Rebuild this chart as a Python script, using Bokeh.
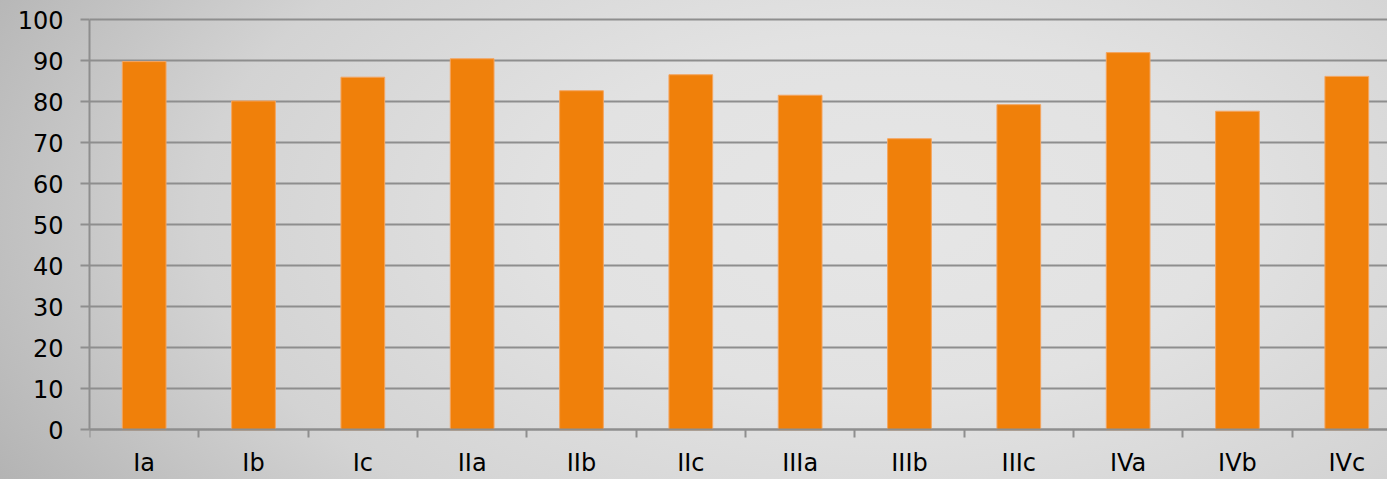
from bokeh.plotting import figure
from bokeh.models import Range1d, FixedTicker, ColumnDataSource, LinearAxis, Grid
from bokeh.embed import file_html
from bokeh.resources import INLINE

categories = ["Ia", "Ib", "Ic", "IIa", "IIb", "IIc", "IIIa", "IIIb", "IIIc", "IVa", "IVb", "IVc"]
values = [89.8, 80.2, 86.0, 90.5, 82.7, 86.6, 81.6, 71.0, 79.3, 92.0, 77.7, 86.2]
y_ticks = [0, 10, 20, 30, 40, 50, 60, 70, 80, 90, 100]

n = len(categories)
centers = [i + 0.5 for i in range(n)]
src = ColumnDataSource(dict(x=centers, top=values, cat=categories))

W, H = 1387, 479
left = 89
frame_w = W - left
cat_px = 109.33
px_per_unit = 4.1
zero_y = 429.3  # within figure

p = figure(width=W, height=H, output_backend="svg", toolbar_location=None,
           x_range=Range1d(0, frame_w / cat_px),
           y_range=Range1d(-(H - zero_y) / px_per_unit, zero_y / px_per_unit),
           x_axis_type=None, y_axis_type=None,
           min_border_left=left, min_border_right=0, min_border_top=0, min_border_bottom=0)
p.outline_line_color = None
p.background_fill_alpha = 0
p.border_fill_alpha = 0
p.styles = {"background": "radial-gradient(ellipse 80% 125% at 64% 45%, #e6e6e6 0%, #e2e2e2 30%, #d3d3d3 62%, #aaaaaa 100%)"}

grid_col = "#8e8e8e"

yaxis = LinearAxis(ticker=FixedTicker(ticks=y_ticks), bounds=(0, 100))
yaxis.axis_line_color = grid_col
yaxis.axis_line_width = 2
yaxis.major_tick_line_color = grid_col
yaxis.major_tick_line_width = 2
yaxis.major_tick_out = 9
yaxis.major_tick_in = 0
yaxis.minor_tick_line_color = None
yaxis.major_label_standoff = 17
yaxis.major_label_text_font = "DejaVu Sans"
yaxis.major_label_text_font_size = "24px"
yaxis.major_label_text_color = "#000000"
p.add_layout(yaxis, "left")

xaxis = LinearAxis(ticker=FixedTicker(ticks=centers, minor_ticks=list(range(n + 1))),
                   fixed_location=0)
xaxis.major_label_overrides = {c: cat for c, cat in zip(centers, categories)}
xaxis.axis_line_color = grid_col
xaxis.axis_line_width = 2
xaxis.major_tick_line_color = None
xaxis.major_tick_out = 0
xaxis.major_tick_in = 0
xaxis.minor_tick_line_color = grid_col
xaxis.minor_tick_line_width = 2
xaxis.minor_tick_out = 8
xaxis.minor_tick_in = 0
xaxis.major_label_standoff = 11
xaxis.major_label_text_font = "DejaVu Sans"
xaxis.major_label_text_font_size = "24px"
xaxis.major_label_text_color = "#000000"
p.add_layout(xaxis, "below")

grid = Grid(dimension=1, ticker=FixedTicker(ticks=y_ticks))
grid.grid_line_color = grid_col
grid.grid_line_width = 2
p.add_layout(grid)

p.vbar(x="x", top="top", bottom=0, width=0.4, source=src,
       fill_color="#F0800A", line_color="#F4A560", line_width=1)

open("out.html", "w").write(file_html(p, INLINE))
